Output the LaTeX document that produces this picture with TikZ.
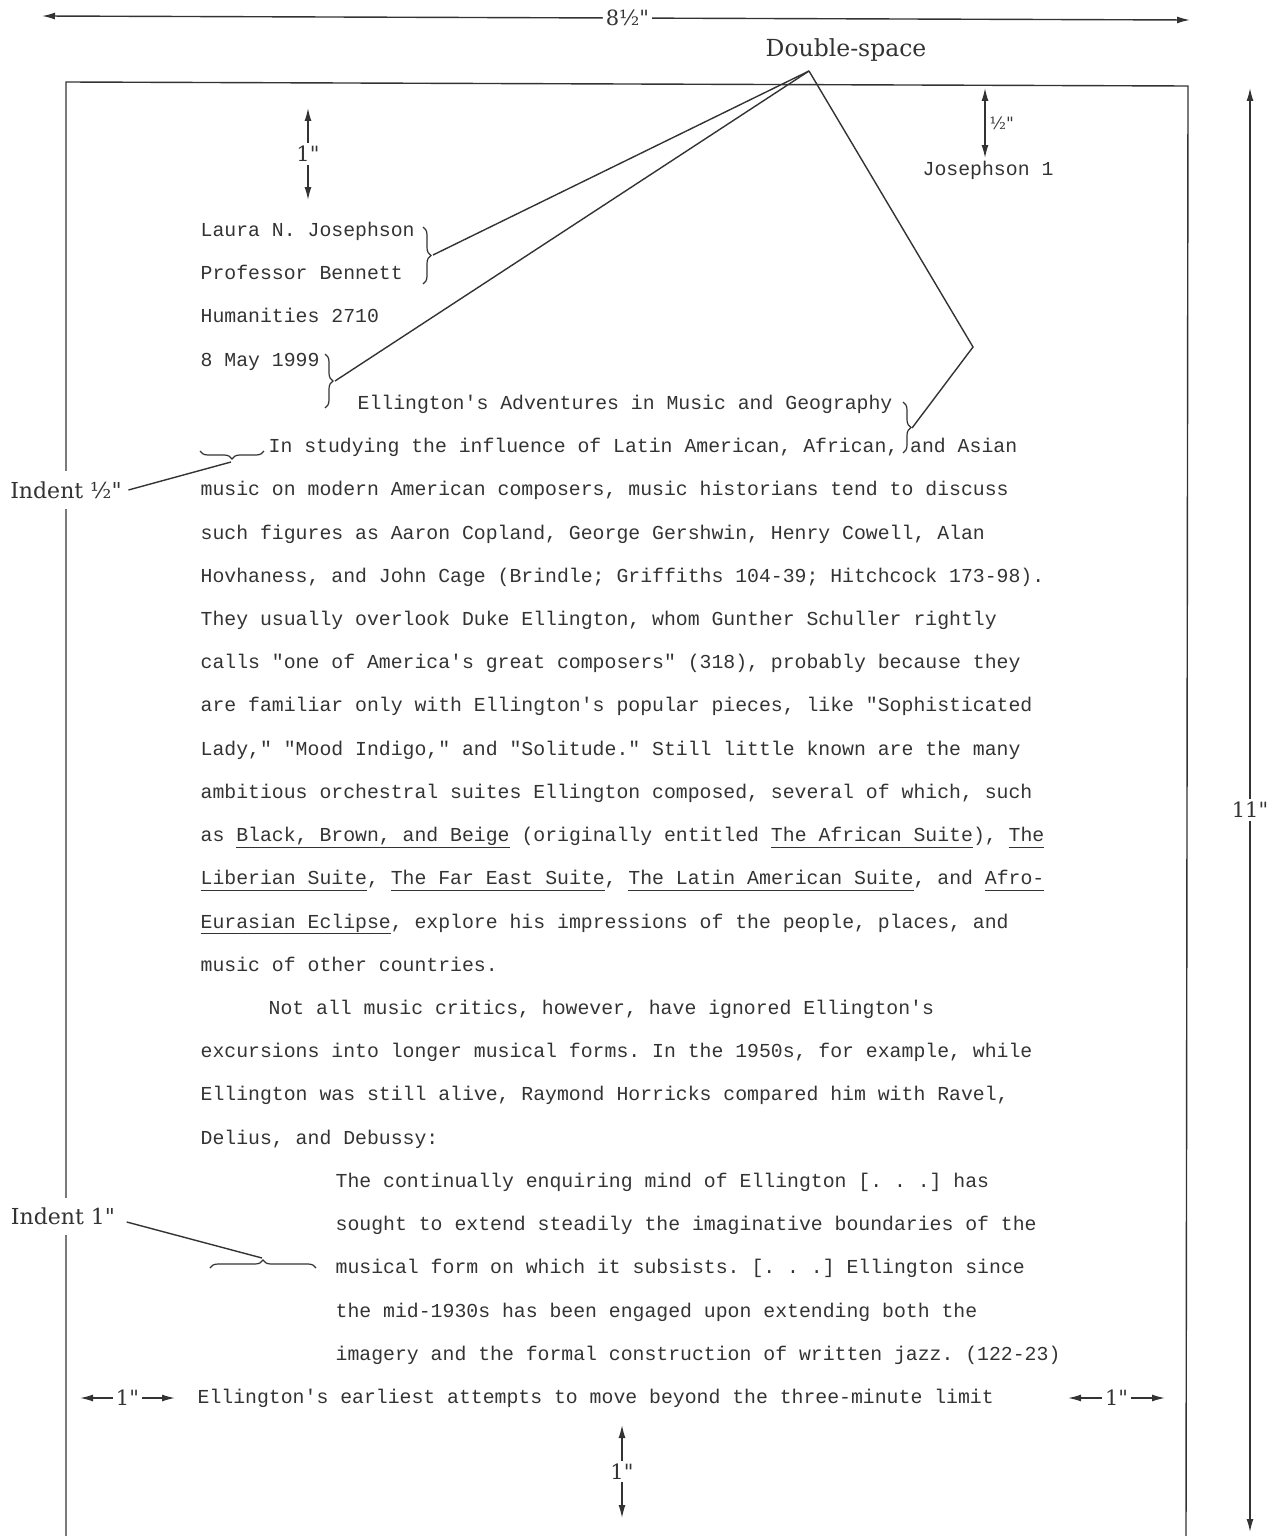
\documentclass[tikz,border=0pt]{standalone}
\usepackage{fontspec}
\setmonofont{Liberation Mono}
\newfontfamily\lblfont{DejaVu Serif}[Ligatures=TeXOff]
\usetikzlibrary{positioning,arrows.meta,decorations.pathreplacing}
\newcommand\ttul[1]{\underline{#1\vphantom{gy}}}

\begin{document}
\begin{tikzpicture}[x=1pt, y=1pt, node distance=43.22pt, line width=1.4pt, color=black!80,
    >={Latex[length=13pt,width=7pt]}]
        \tikzstyle{txt}=[font=\ttfamily\fontsize{19.8}{22}\selectfont, inner sep=0pt, text height=13pt, text depth=2pt]
        \tikzstyle{lbl}=[font=\lblfont\fontsize{22}{26}\selectfont, fill=white, inner xsep=3pt, inner ysep=10pt]
        \tikzstyle{dimlbl}=[font=\lblfont\fontsize{21}{24}\selectfont, fill=white, inner sep=3pt]
        \tikzstyle{dim}=[<->]
        \tikzstyle{brc}=[decorate, decoration={brace, amplitude=8pt}, line width=1.2pt]

        \useasboundingbox (0,0) rectangle (1278,-1536);

        % the sheet
        \draw (66,-1536) -- (66,-82) -- (1188,-86) -- (1186,-1536);

        % heading and text
        \node (run) [txt, anchor=west] at (922,-170) {Josephson 1};
        \node (h1) [txt, anchor=west] at (200,-231) {Laura N. Josephson};
        \node (h2) [txt, below=of h1.west, anchor=west] {Professor Bennett};
        \node (h3) [txt, below=of h2.west, anchor=west] {Humanities 2710};
        \node (h4) [txt, below=of h3.west, anchor=west] {8 May 1999};
        \node (t1) [txt, below=of h4.west, anchor=west, xshift=157pt] {Ellington's Adventures in Music and Geography};
        \node (p1) [txt, below=of t1.west, anchor=west, xshift=-89pt] {In studying the influence of Latin American, African, and Asian};
        \node (p2) [txt, below=of p1.west, anchor=west, xshift=-68pt] {music on modern American composers, music historians tend to discuss};
        \node (p3) [txt, below=of p2.west, anchor=west] {such figures as Aaron Copland, George Gershwin, Henry Cowell, Alan};
        \node (p4) [txt, below=of p3.west, anchor=west] {Hovhaness, and John Cage (Brindle; Griffiths 104-39; Hitchcock 173-98).};
        \node (p5) [txt, below=of p4.west, anchor=west] {They usually overlook Duke Ellington, whom Gunther Schuller rightly};
        \node (p6) [txt, below=of p5.west, anchor=west] {calls "one of America's great composers" (318), probably because they};
        \node (p7) [txt, below=of p6.west, anchor=west] {are familiar only with Ellington's popular pieces, like "Sophisticated};
        \node (p8) [txt, below=of p7.west, anchor=west] {Lady," "Mood Indigo," and "Solitude." Still little known are the many};
        \node (p9) [txt, below=of p8.west, anchor=west] {ambitious orchestral suites Ellington composed, several of which, such};
        \node (p10) [txt, below=of p9.west, anchor=west] {as \ttul{Black, Brown, and Beige} (originally entitled \ttul{The African Suite}), \ttul{The}};
        \node (p11) [txt, below=of p10.west, anchor=west] {\ttul{Liberian Suite}, \ttul{The Far East Suite}, \ttul{The Latin American Suite}, and \ttul{Afro-}};
        \node (p12) [txt, below=of p11.west, anchor=west] {\ttul{Eurasian Eclipse}, explore his impressions of the people, places, and};
        \node (p13) [txt, below=of p12.west, anchor=west] {music of other countries.};
        \node (p14) [txt, below=of p13.west, anchor=west, xshift=68pt] {Not all music critics, however, have ignored Ellington's};
        \node (p15) [txt, below=of p14.west, anchor=west, xshift=-68pt] {excursions into longer musical forms. In the 1950s, for example, while};
        \node (p16) [txt, below=of p15.west, anchor=west] {Ellington was still alive, Raymond Horricks compared him with Ravel,};
        \node (p17) [txt, below=of p16.west, anchor=west] {Delius, and Debussy:};
        \node (q1) [txt, below=of p17.west, anchor=west, xshift=135pt] {The continually enquiring mind of Ellington [. . .] has};
        \node (q2) [txt, below=of q1.west, anchor=west] {sought to extend steadily the imaginative boundaries of the};
        \node (q3) [txt, below=of q2.west, anchor=west] {musical form on which it subsists. [. . .] Ellington since};
        \node (q4) [txt, below=of q3.west, anchor=west] {the mid-1930s has been engaged upon extending both the};
        \node (q5) [txt, below=of q4.west, anchor=west] {imagery and the formal construction of written jazz. (122-23)};
        \node (p18) [txt, below=of q5.west, anchor=west, xshift=-138pt] {Ellington's earliest attempts to move beyond the three-minute limit};

        % double-space callout
        \node (dsp) [font=\lblfont\fontsize{23.5}{28}\selectfont] at (846,-50) {Double-space};
        \coordinate (apex) at (809,-71);
        \draw[brc] (423,-227) -- (423,-284);
        \coordinate (b1) at (433,-255);
        \draw[brc] (325,-354) -- (325,-408);
        \coordinate (b2) at (335,-381);
        \draw[brc] (903,-402) -- (903,-453);
        \coordinate (b3) at (912,-428);
        \coordinate (bend) at (973,-347);
        \draw (b1) -- (apex);
        \draw (b2) -- (apex);
        \draw (b3) -- (bend) -- (apex);

        % indents
        \draw[brc] (264,-451) -- (200,-451);
        \coordinate (b4) at (231,-462);
        \node (ind1) [lbl] at (66,-490) {Indent \textonehalf"};
        \draw ([xshift=3pt]ind1.east) -- (b4);
        \draw[brc] (210,-1268) -- (316,-1268);
        \coordinate (b5) at (262,-1258);
        \node (ind2) [lbl] at (63,-1216) {Indent 1"};
        \draw ([xshift=8pt,yshift=-6pt]ind2.east) -- (b5);

        % measures
        \coordinate (wl) at (42,-16);
        \coordinate (wr) at (1190,-20);
        \draw[dim] (wl) -- node[dimlbl, pos=0.51] (wd) {8\textonehalf"} (wr);
        \coordinate (ht) at (1250,-88);
        \coordinate (hb) at (1250,-1532);
        \draw[dim] (ht) -- node[dimlbl] (hd) {11"} (hb);
        \coordinate (mt1) at (308,-108);
        \coordinate (mt2) at (308,-200);
        \draw[dim] (mt1) -- node[dimlbl] (md1) {1"} (mt2);
        \coordinate (hh1) at (985,-88);
        \coordinate (hh2) at (985,-158);
        \draw[dim] (hh1) -- node[right, font=\lblfont\fontsize{17}{20}\selectfont, inner sep=4pt] (hhd) {\textonehalf"} (hh2);
        \coordinate (mb1) at (622,-1425);
        \coordinate (mb2) at (622,-1518);
        \draw[dim] (mb1) -- node[dimlbl] (md2) {1"} (mb2);
        \coordinate (ml1) at (80,-1398);
        \coordinate (ml2) at (175,-1398);
        \draw[dim] (ml1) -- node[dimlbl] (md3) {1"} (ml2);
        \coordinate (mr1) at (1068,-1398);
        \coordinate (mr2) at (1165,-1398);
        \draw[dim] (mr1) -- node[dimlbl] (md4) {1"} (mr2);

    \end{tikzpicture}
\end{document}
